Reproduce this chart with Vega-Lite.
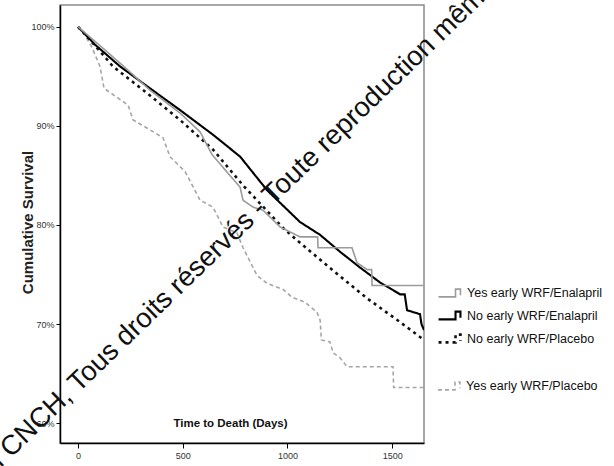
{
  "$schema": "https://vega.github.io/schema/vega-lite/v6.json",
  "width": 364,
  "height": 438,
  "autosize": {"type": "none"},
  "padding": {"left": 60, "top": 5, "right": 190, "bottom": 23},
  "background": "white",
  "config": {
    "view": {"stroke": "#8a8a8a", "strokeWidth": 1.5},
    "font": "Liberation Sans",
    "legend": {"symbolFillColor": "transparent"}
  },
  "datasets": {
    "km": [
      {"g": "No early WRF/Enalapril", "i": 1, "t": 0, "s": 100},
      {"g": "No early WRF/Enalapril", "i": 2, "t": 81, "s": 98.2},
      {"g": "No early WRF/Enalapril", "i": 3, "t": 201, "s": 96.0},
      {"g": "No early WRF/Enalapril", "i": 4, "t": 330, "s": 94.0},
      {"g": "No early WRF/Enalapril", "i": 5, "t": 487, "s": 91.6},
      {"g": "No early WRF/Enalapril", "i": 6, "t": 645, "s": 89.1},
      {"g": "No early WRF/Enalapril", "i": 7, "t": 774, "s": 86.9},
      {"g": "No early WRF/Enalapril", "i": 8, "t": 903, "s": 83.5},
      {"g": "No early WRF/Enalapril", "i": 9, "t": 1060, "s": 80.3},
      {"g": "No early WRF/Enalapril", "i": 10, "t": 1156, "s": 79.0},
      {"g": "No early WRF/Enalapril", "i": 11, "t": 1251, "s": 77.3},
      {"g": "No early WRF/Enalapril", "i": 12, "t": 1347, "s": 75.7},
      {"g": "No early WRF/Enalapril", "i": 13, "t": 1442, "s": 74.2},
      {"g": "No early WRF/Enalapril", "i": 14, "t": 1538, "s": 73.0},
      {"g": "No early WRF/Enalapril", "i": 15, "t": 1560, "s": 73.0},
      {"g": "No early WRF/Enalapril", "i": 16, "t": 1571, "s": 71.4},
      {"g": "No early WRF/Enalapril", "i": 17, "t": 1633, "s": 71.0},
      {"g": "No early WRF/Enalapril", "i": 18, "t": 1640, "s": 70.0},
      {"g": "No early WRF/Enalapril", "i": 19, "t": 1652, "s": 69.4},

      {"g": "No early WRF/Placebo", "i": 1, "t": 0, "s": 100},
      {"g": "No early WRF/Placebo", "i": 2, "t": 57, "s": 98.7},
      {"g": "No early WRF/Placebo", "i": 3, "t": 167, "s": 96.0},
      {"g": "No early WRF/Placebo", "i": 4, "t": 330, "s": 93.3},
      {"g": "No early WRF/Placebo", "i": 5, "t": 487, "s": 90.6},
      {"g": "No early WRF/Placebo", "i": 6, "t": 645, "s": 87.6},
      {"g": "No early WRF/Placebo", "i": 7, "t": 788, "s": 84.0},
      {"g": "No early WRF/Placebo", "i": 8, "t": 979, "s": 79.7},
      {"g": "No early WRF/Placebo", "i": 9, "t": 1060, "s": 78.2},
      {"g": "No early WRF/Placebo", "i": 10, "t": 1218, "s": 75.4},
      {"g": "No early WRF/Placebo", "i": 11, "t": 1380, "s": 72.6},
      {"g": "No early WRF/Placebo", "i": 12, "t": 1538, "s": 70.2},
      {"g": "No early WRF/Placebo", "i": 13, "t": 1652, "s": 68.4},

      {"g": "Yes early WRF/Enalapril", "i": 1, "t": 0, "s": 100},
      {"g": "Yes early WRF/Enalapril", "i": 2, "t": 105, "s": 98.1},
      {"g": "Yes early WRF/Enalapril", "i": 3, "t": 224, "s": 95.9},
      {"g": "Yes early WRF/Enalapril", "i": 4, "t": 344, "s": 93.6},
      {"g": "Yes early WRF/Enalapril", "i": 5, "t": 487, "s": 91.3},
      {"g": "Yes early WRF/Enalapril", "i": 6, "t": 583, "s": 89.4},
      {"g": "Yes early WRF/Enalapril", "i": 7, "t": 640, "s": 87.1},
      {"g": "Yes early WRF/Enalapril", "i": 8, "t": 774, "s": 83.8},
      {"g": "Yes early WRF/Enalapril", "i": 9, "t": 788, "s": 82.5},
      {"g": "Yes early WRF/Enalapril", "i": 10, "t": 836, "s": 81.8},
      {"g": "Yes early WRF/Enalapril", "i": 11, "t": 883, "s": 81.5},
      {"g": "Yes early WRF/Enalapril", "i": 12, "t": 965, "s": 79.8},
      {"g": "Yes early WRF/Enalapril", "i": 13, "t": 1060, "s": 78.8},
      {"g": "Yes early WRF/Enalapril", "i": 14, "t": 1144, "s": 78.8},
      {"g": "Yes early WRF/Enalapril", "i": 15, "t": 1146, "s": 77.7},
      {"g": "Yes early WRF/Enalapril", "i": 16, "t": 1308, "s": 77.7},
      {"g": "Yes early WRF/Enalapril", "i": 17, "t": 1332, "s": 76.2},
      {"g": "Yes early WRF/Enalapril", "i": 18, "t": 1380, "s": 75.5},
      {"g": "Yes early WRF/Enalapril", "i": 19, "t": 1402, "s": 75.5},
      {"g": "Yes early WRF/Enalapril", "i": 20, "t": 1404, "s": 73.9},
      {"g": "Yes early WRF/Enalapril", "i": 21, "t": 1652, "s": 73.9},

      {"g": "Yes early WRF/Placebo", "i": 1, "t": 0, "s": 100},
      {"g": "Yes early WRF/Placebo", "i": 2, "t": 33, "s": 99.2},
      {"g": "Yes early WRF/Placebo", "i": 3, "t": 67, "s": 97.9},
      {"g": "Yes early WRF/Placebo", "i": 4, "t": 105, "s": 96.0},
      {"g": "Yes early WRF/Placebo", "i": 5, "t": 124, "s": 93.8},
      {"g": "Yes early WRF/Placebo", "i": 6, "t": 239, "s": 92.1},
      {"g": "Yes early WRF/Placebo", "i": 7, "t": 263, "s": 90.6},
      {"g": "Yes early WRF/Placebo", "i": 8, "t": 344, "s": 89.6},
      {"g": "Yes early WRF/Placebo", "i": 9, "t": 406, "s": 88.8},
      {"g": "Yes early WRF/Placebo", "i": 10, "t": 439, "s": 86.9},
      {"g": "Yes early WRF/Placebo", "i": 11, "t": 511, "s": 85.4},
      {"g": "Yes early WRF/Placebo", "i": 12, "t": 583, "s": 82.5},
      {"g": "Yes early WRF/Placebo", "i": 13, "t": 645, "s": 81.8},
      {"g": "Yes early WRF/Placebo", "i": 14, "t": 692, "s": 79.8},
      {"g": "Yes early WRF/Placebo", "i": 15, "t": 759, "s": 79.2},
      {"g": "Yes early WRF/Placebo", "i": 16, "t": 788, "s": 77.7},
      {"g": "Yes early WRF/Placebo", "i": 17, "t": 855, "s": 74.9},
      {"g": "Yes early WRF/Placebo", "i": 18, "t": 903, "s": 74.1},
      {"g": "Yes early WRF/Placebo", "i": 19, "t": 979, "s": 73.5},
      {"g": "Yes early WRF/Placebo", "i": 20, "t": 1022, "s": 72.7},
      {"g": "Yes early WRF/Placebo", "i": 21, "t": 1084, "s": 72.2},
      {"g": "Yes early WRF/Placebo", "i": 22, "t": 1141, "s": 71.2},
      {"g": "Yes early WRF/Placebo", "i": 23, "t": 1156, "s": 70.4},
      {"g": "Yes early WRF/Placebo", "i": 24, "t": 1162, "s": 68.4},
      {"g": "Yes early WRF/Placebo", "i": 25, "t": 1203, "s": 68.2},
      {"g": "Yes early WRF/Placebo", "i": 26, "t": 1218, "s": 67.1},
      {"g": "Yes early WRF/Placebo", "i": 27, "t": 1251, "s": 66.6},
      {"g": "Yes early WRF/Placebo", "i": 28, "t": 1285, "s": 65.7},
      {"g": "Yes early WRF/Placebo", "i": 29, "t": 1504, "s": 65.7},
      {"g": "Yes early WRF/Placebo", "i": 30, "t": 1507, "s": 63.6},
      {"g": "Yes early WRF/Placebo", "i": 31, "t": 1652, "s": 63.6}
    ],
    "mark": [{"label": "n CNCH, Tous droits réservés - Toute reproduction même"}]
  },
  "layer": [
    {
      "data": {"name": "km"},
      "transform": [{"filter": "datum.g === 'Yes early WRF/Placebo'"}],
      "mark": {"type": "line", "clip": true, "strokeDash": [4, 3], "strokeWidth": 1.6},
      "encoding": {
        "x": {
          "field": "t", "type": "quantitative",
          "scale": {"domain": [-86, 1652], "nice": false, "zero": false},
          "axis": {
            "values": [0, 500, 1000, 1500],
            "format": "d",
            "title": "Time to Death (Days)",
            "grid": false,
            "domainColor": "#000", "domainWidth": 1.5,
            "tickColor": "#000", "tickSize": 5,
            "labelFont": "Liberation Sans", "labelFontSize": 9, "labelColor": "#333", "labelPadding": 3,
            "titleFont": "Liberation Sans", "titleFontSize": 11.5, "titleFontWeight": "bold", "titleColor": "#111",
            "titleX": 170, "titleY": -20, "titleBaseline": "middle", "titleAlign": "center"
          }
        },
        "y": {
          "field": "s", "type": "quantitative",
          "scale": {"domain": [58, 102.2], "nice": false, "zero": false},
          "axis": {
            "values": [60, 70, 80, 90, 100],
            "labelExpr": "datum.value + '%'",
            "title": "Cumulative Survival",
            "grid": false,
            "domainColor": "#000", "domainWidth": 1.5,
            "tickColor": "#000", "tickSize": 4,
            "labelFont": "Liberation Sans", "labelFontSize": 9, "labelColor": "#333", "labelPadding": 2,
            "titleFont": "Liberation Sans", "titleFontSize": 15, "titleFontWeight": "bold", "titleColor": "#222",
            "titleX": -33, "titleY": 217, "titleAngle": -90, "titleBaseline": "middle", "titleAlign": "center"
          }
        },
        "order": {"field": "i", "type": "quantitative"},
        "color": {
          "field": "g", "type": "nominal",
          "scale": {"domain": ["Yes early WRF/Placebo"], "range": ["#a6a6a6"]},
          "legend": {
            "type": "symbol", "orient": "none", "legendX": 377, "legendY": 369, "title": null,
            "labelFont": "Liberation Sans", "labelFontSize": 12.5, "labelColor": "#111",
            "symbolType": "M-1,0.35L0.55,0.35L0.55,-0.35L1,-0.35L1,0.2",
            "symbolSize": 480, "symbolStrokeWidth": 1.6, "symbolDash": [4, 3],
            "symbolStrokeColor": "#a6a6a6",
            "labelOffset": 5, "padding": 0
          }
        }
      }
    },
    {
      "data": {"name": "km"},
      "transform": [{"filter": "datum.g !== 'Yes early WRF/Placebo'"}],
      "mark": {"type": "line", "clip": true},
      "encoding": {
        "x": {"field": "t", "type": "quantitative"},
        "y": {"field": "s", "type": "quantitative"},
        "order": {"field": "i", "type": "quantitative"},
        "color": {
          "field": "g", "type": "nominal",
          "scale": {"domain": ["Yes early WRF/Enalapril", "No early WRF/Enalapril", "No early WRF/Placebo"], "range": ["#9b9b9b", "#000000", "#111111"]},
          "legend": {
            "type": "symbol", "orient": "none", "legendX": 377, "legendY": 276, "title": null,
            "labelFont": "Liberation Sans", "labelFontSize": 12.5, "labelColor": "#111",
            "symbolType": "M-1,0.35L0.55,0.35L0.55,-0.35L1,-0.35L1,0.2",
            "symbolSize": 480, "labelOffset": 5, "padding": 0, "rowPadding": 2
          }
        },
        "strokeDash": {
          "field": "g", "type": "nominal",
          "scale": {"domain": ["Yes early WRF/Enalapril", "No early WRF/Enalapril", "No early WRF/Placebo"], "range": [[1, 0], [1, 0], [3, 4]]}
        },
        "strokeWidth": {
          "field": "g", "type": "nominal",
          "scale": {"domain": ["Yes early WRF/Enalapril", "No early WRF/Enalapril", "No early WRF/Placebo"], "range": [1.6, 2.6, 3]}
        }
      }
    },
    {
      "data": {"name": "mark"},
      "mark": {"type": "text", "angle": 316, "fontSize": 27.5, "font": "Liberation Sans", "color": "#111", "align": "center", "baseline": "middle", "clip": false},
      "encoding": {
        "x": {"datum": 774, "type": "quantitative"},
        "y": {"datum": 79.9, "type": "quantitative"},
        "text": {"field": "label", "type": "nominal"}
      }
    }
  ],
  "resolve": {"scale": {"color": "independent", "strokeDash": "independent", "strokeWidth": "independent"}}
}
